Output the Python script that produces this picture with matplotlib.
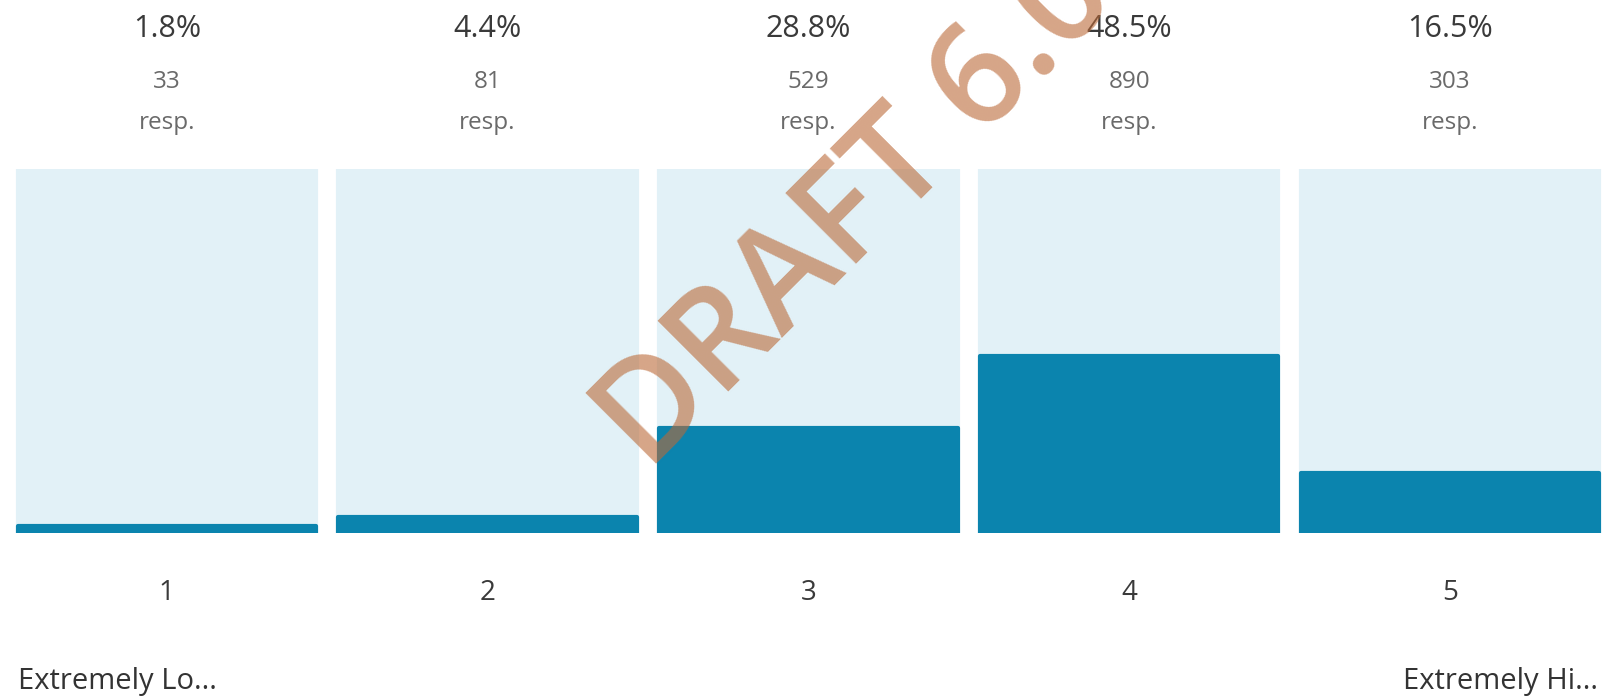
import matplotlib
matplotlib.use('Agg')
import matplotlib.pyplot as plt
import numpy as np

# survey result: 1..5 scale
scale = ['1', '2', '3', '4', '5']
pct = [1.8, 4.4, 28.8, 48.5, 16.5]
counts = [33, 81, 529, 890, 303]
end_labels = ['Extremely Lo...', 'Extremely Hi...']

bar_col = '#0b84ae'
bg_col = '#e2f1f7'

plt.rcParams['font.family'] = ['Open Sans', 'DejaVu Sans']

fig = plt.figure(figsize=(16.04, 6.99), dpi=100)
ax = fig.add_axes([0, (699 - 533) / 699, 1, 364 / 699])

x = np.arange(len(scale))
w = 0.93
ax.bar(x, [100] * len(x), width=w, color=bg_col, edgecolor=bg_col,
       linewidth=3, joinstyle='round')
ax.bar(x, pct, width=w, color=bar_col, edgecolor=bar_col,
       linewidth=3, joinstyle='round')

ax.set_xlim(-0.52, 4.48)
ax.set_ylim(0, 100)
ax.axis('off')

tr = ax.get_xaxis_transform()
for i in range(len(x)):
    ax.text(x[i], 1.385, '%.1f%%' % pct[i], transform=tr,
            ha='center', va='center', fontsize=22, color='#3a3a3a')
    ax.text(x[i], 1.24, str(counts[i]), transform=tr,
            ha='center', va='center', fontsize=17.5, color='#6a6a6a')
    ax.text(x[i], 1.127, 'resp.', transform=tr,
            ha='center', va='center', fontsize=17.5, color='#6a6a6a')
    ax.text(x[i], -0.165, scale[i], transform=tr,
            ha='center', va='center', fontsize=20, color='#3a3a3a')

fig.text(18 / 1604, 1 - 681 / 699, end_labels[0], ha='left', va='center',
         fontsize=21, color='#333333')
fig.text(1598 / 1604, 1 - 681 / 699, end_labels[1], ha='right', va='center',
         fontsize=21, color='#333333')

# watermark (runs off the top edge, as in the original)
fig.text(648 / 1604, 1 - 473 / 699, 'DRAFT 6.0', rotation=45,
         rotation_mode='anchor', ha='left', va='baseline', fontsize=100,
         fontweight='semibold',
         color=(187 / 255, 105 / 255, 55 / 255), alpha=0.6, zorder=10)

fig.savefig('out.png', dpi=100)
